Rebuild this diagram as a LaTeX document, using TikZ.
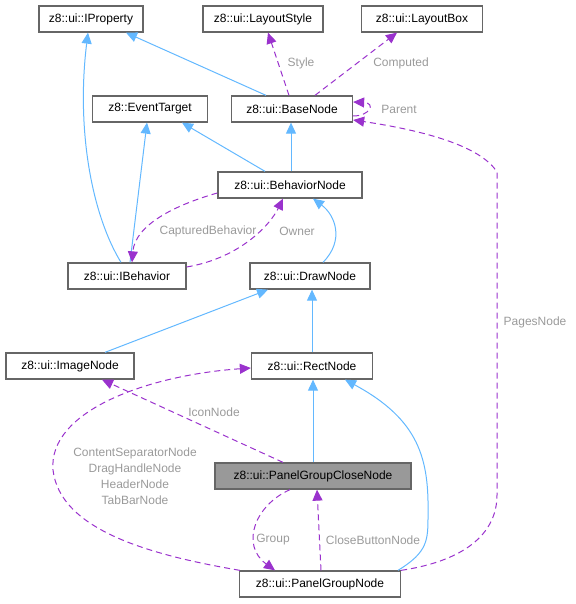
\documentclass[tikz,border=0pt]{standalone}
\usepackage{fontspec}
\setmainfont{Liberation Sans}
\usepackage{xcolor}
\usetikzlibrary{arrows.meta}
\definecolor{inherit}{HTML}{63B8FF}
\definecolor{usage}{HTML}{9A32CD}
\definecolor{frame}{HTML}{666666}
\definecolor{hilite}{HTML}{999999}
\definecolor{lblgray}{HTML}{9A9A9A}

\begin{document}
\begin{tikzpicture}[x=1pt,y=-1pt,
            cls/.style={shape=rectangle, draw=frame, line width=1.3pt, fill=white, minimum height=26pt, inner sep=0pt, font=\fontsize{12}{14}\selectfont},
            base/.style={draw=inherit, line width=1pt, -{Triangle[length=11pt,width=10pt]}},
            uses/.style={draw=usage, line width=1pt, dash pattern=on 6pt off 4pt, -{Triangle[length=11pt,width=10pt]}},
            lbl/.style={text=lblgray, font=\fontsize{12}{16}\selectfont, inner sep=0pt, align=center}]
				\useasboundingbox (0,0) rectangle (575,604);

				\node[cls, minimum width=104pt] (iprop) at (91,19) {z8::ui::IProperty};
				\node[cls, minimum width=120pt] (lstyle) at (263,19) {z8::ui::LayoutStyle};
				\node[cls, minimum width=121pt] (lbox) at (422,19) {z8::ui::LayoutBox};
				\node[cls, minimum width=115pt] (evt) at (150,109) {z8::EventTarget};
				\node[cls, minimum width=121pt] (basen) at (292,109) {z8::ui::BaseNode};
				\node[cls, minimum width=144pt] (behn) at (290,185) {z8::ui::BehaviorNode};
				\node[cls, minimum width=118pt] (ibeh) at (127,276) {z8::ui::IBehavior};
				\node[cls, minimum width=120pt] (drawn) at (310,276) {z8::ui::DrawNode};
				\node[cls, minimum width=128pt] (imgn) at (70,366) {z8::ui::ImageNode};
				\node[cls, minimum width=121pt] (rectn) at (312,366) {z8::ui::RectNode};
				\node[cls, minimum width=196pt, fill=hilite] (closen) at (313,476) {z8::ui::PanelGroupCloseNode};
				\node[cls, minimum width=161pt] (groupn) at (320,584) {z8::ui::PanelGroupNode};

				% inheritance
				\draw[base] ([xshift=-26pt]basen.north) -- ([xshift=35pt]iprop.south);
				\draw[base] ([xshift=-6pt]ibeh.north) .. controls (92,215) and (76,130) .. ([xshift=-3pt]iprop.south);
				\draw[base] ([xshift=3pt]ibeh.north) -- ([xshift=-3pt]evt.south);
				\draw[base] ([xshift=-25pt]behn.north) -- ([xshift=32pt]evt.south);
				\draw[base] ([xshift=1pt]behn.north) -- ([xshift=-1pt]basen.south);
				\draw[base] ([xshift=13pt]drawn.north) .. controls (345,240) and (335,215) .. ([xshift=23pt]behn.south);
				\draw[base] ([xshift=35pt]imgn.north) -- ([xshift=-42pt]drawn.south);
				\draw[base] (rectn.north) -- ([xshift=2pt]drawn.south);
				\draw[base] (closen.north) -- ([xshift=1pt]rectn.south);
				\draw[base] ([xshift=78pt]groupn.north) .. controls (428,552) and (428,540) .. (428,515)
					.. controls (429,460) and (420,420) .. ([xshift=33pt]rectn.south);

				% members
				\draw[uses] ([xshift=-3pt]basen.north) -- ([xshift=5pt]lstyle.south);
				\draw[uses] ([xshift=23pt]basen.north) -- ([xshift=-25pt]lbox.south);
				\draw[uses] ([yshift=-7pt]basen.east) .. controls (370,116) and (376,103) .. ([yshift=7pt]basen.east);
				\draw[uses] ([yshift=-8pt]behn.west) .. controls (175,205) and (135,225) .. ([xshift=5pt]ibeh.north);
				\draw[uses] ([yshift=9pt]ibeh.east) .. controls (240,258) and (270,225) .. ([xshift=-7pt]behn.south);
				\draw[uses] (groupn.north east) .. controls (470,560) and (497,530) .. (497,495) -- (497,172)
					.. controls (480,145) and (420,130) .. ([yshift=-11pt]basen.east);
				\draw[uses] ([xshift=-30pt]closen.north) -- ([xshift=32pt]imgn.south);
				\draw[uses] ([xshift=1pt]groupn.north west) .. controls (150,555) and (60,530) .. (53,470)
					.. controls (48,410) and (150,375) .. ([yshift=-2pt]rectn.west);
				\draw[uses] ([xshift=-23pt]closen.south) .. controls (255,505) and (240,545) .. ([xshift=-45pt]groupn.north);
				\draw[uses] ([xshift=1pt]groupn.north) -- ([xshift=4pt]closen.south);

				% member names
				\node[lbl] (lStyle) at (301,63) {Style};
				\node[lbl] (lComputed) at (401,63) {Computed};
				\node[lbl] (lParent) at (399,109) {Parent};
				\node[lbl] (lCaptured) at (208,231) {CapturedBehavior};
				\node[lbl] (lOwner) at (297,231) {Owner};
				\node[lbl] (lPages) at (535,322) {PagesNode};
				\node[lbl] (lIcon) at (214,412) {IconNode};
				\node[lbl] (lParts) at (135,476) {ContentSeparatorNode\\DragHandleNode\\HeaderNode\\TabBarNode};
				\node[lbl] (lGroup) at (273,540) {Group};
				\node[lbl] (lClose) at (373,540) {CloseButtonNode};
 		\end{tikzpicture}
\end{document}
